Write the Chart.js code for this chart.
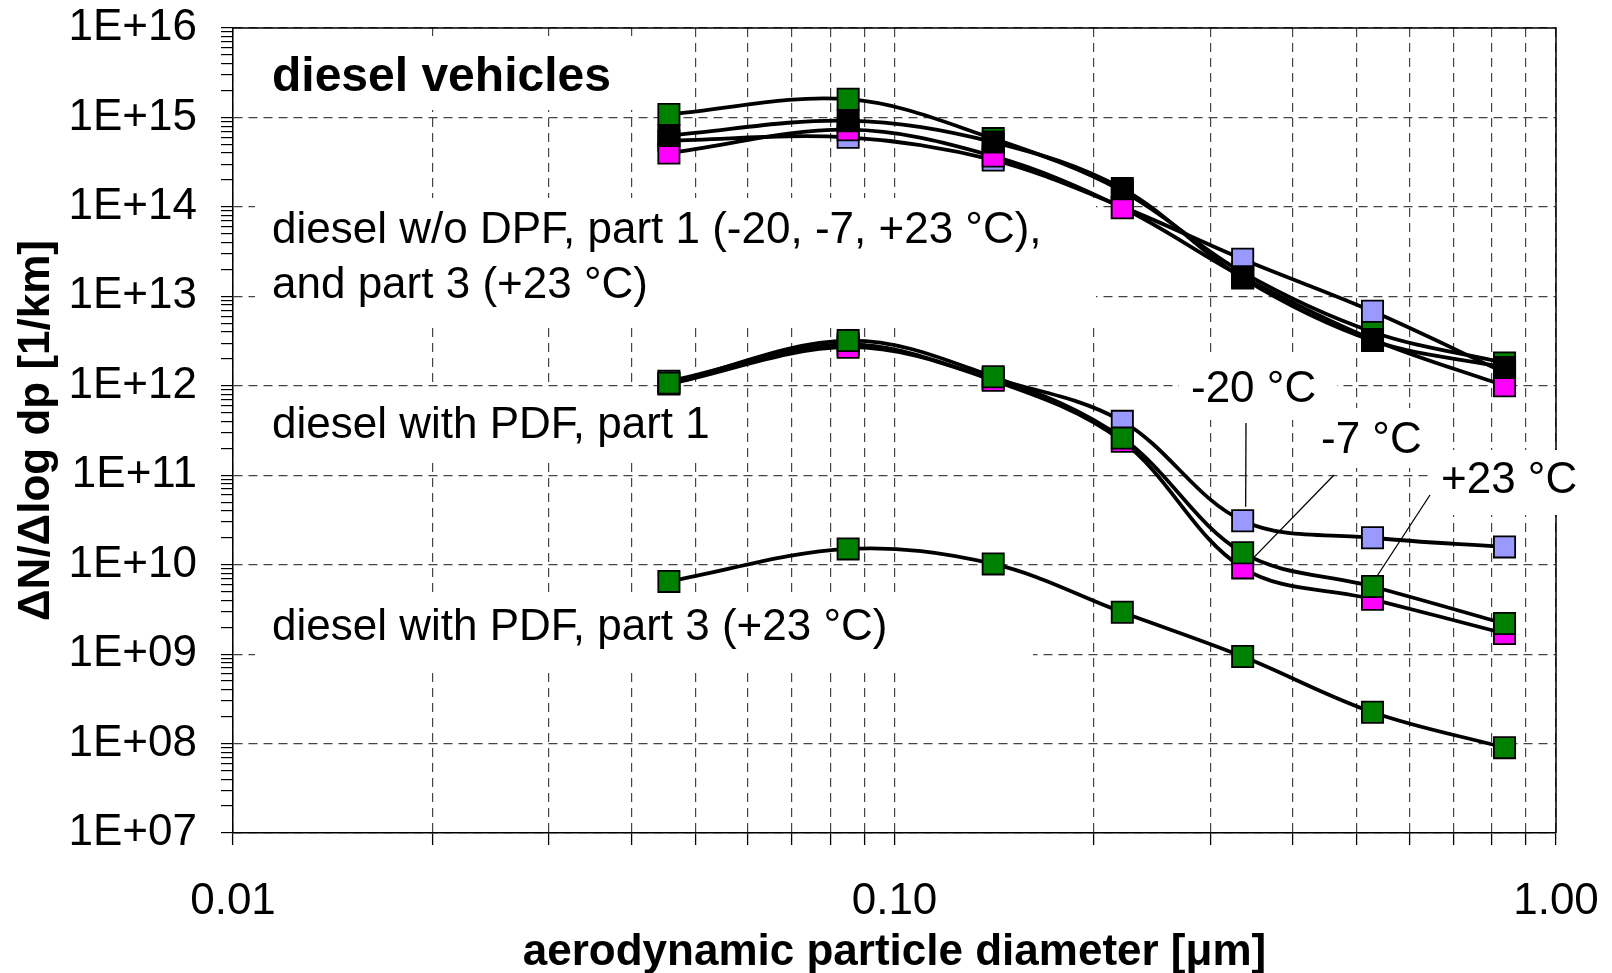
<!DOCTYPE html>
<html>
<head>
<meta charset="utf-8">
<script src="https://cdn.jsdelivr.net/npm/chart.js@4.4.0/dist/chart.umd.min.js"></script>
<style>
  html, body { margin: 0; padding: 0; background: #fff; }
  #wrap { width: 1612px; height: 973px; }
</style>
</head>
<body>
<div id="wrap"><canvas id="chart" width="1612" height="973"></canvas></div>
<script>
// particle diameters [µm]
const diameters = [0.0456, 0.0851, 0.141, 0.221, 0.336, 0.528, 0.836];

// diesel w/o DPF, part 1 at -20, -7, +23 °C and part 3 (+23 °C)
const noDpfM20 = [5.5e14, 6.0e14, 3.35e14, 1.0e14, 2.6e13, 6.8e12, 1.4e12];
const noDpfM7 = [4.0e14, 7.3e14, 3.7e14, 9.8e13, 1.65e13, 3.3e12, 1.0e12];
const noDpfP23 = [1.08e15, 1.6e15, 5.8e14, 1.5e14, 1.85e13, 4.0e12, 1.8e12];
const noDpfPart3 = [6.3e14, 9.2e14, 5.3e14, 1.6e14, 1.6e13, 3.2e12, 1.6e12];

// diesel with DPF, part 1
const dpfM20 = [1.12e12, 2.9e12, 1.2e12, 4.0e11, 3.1e10, 2.0e10, 1.58e10];
const dpfM7 = [1.05e12, 2.7e12, 1.15e12, 2.4e11, 9.2e9, 4.1e9, 1.7e9];
const dpfP23 = [1.07e12, 3.2e12, 1.26e12, 2.6e11, 1.36e10, 5.7e9, 2.2e9];

// diesel with DPF, part 3 (+23 °C)
const dpfPart3 = [6.5e9, 1.5e10, 1.02e10, 2.94e9, 9.4e8, 2.24e8, 9.0e7];

const xTickValues = [0.01, 0.1, 1];
const xTickLabels = ["0.01", "0.10", "1.00"];
const yTickValues = [1e7, 1e8, 1e9, 1e10, 1e11, 1e12, 1e13, 1e14, 1e15, 1e16];
const yTickLabels = ["1E+07", "1E+08", "1E+09", "1E+10", "1E+11", "1E+12", "1E+13", "1E+14", "1E+15", "1E+16"];

const LIGHTBLUE = "#9999ff";
const MAGENTA = "#ff00ff";
const GREEN = "#008000";
const BLACK = "#000000";

const FONT = '"Liberation Sans", Arial, sans-serif';
Chart.defaults.font.family = FONT;
Chart.defaults.color = "#000";

function series(values, color) {
  return {
    data: values.map((v, i) => ({ x: diameters[i], y: v })),
    borderColor: "#000",
    borderWidth: 3.8,
    backgroundColor: color,
    pointBackgroundColor: color,
    pointBorderColor: "#000",
    pointBorderWidth: 1.8,
    pointStyle: "rect",
    pointRadius: 15,
    tension: 0.35,
  };
}

// first dataset is drawn on top
const datasets = [
  series(noDpfPart3, BLACK),
  series(noDpfM7, MAGENTA),
  series(noDpfM20, LIGHTBLUE),
  series(noDpfP23, GREEN),
  series(dpfP23, GREEN),
  series(dpfM7, MAGENTA),
  series(dpfM20, LIGHTBLUE),
  series(dpfPart3, GREEN),
];

function logTicks(decades) {
  const out = [];
  decades.forEach((d, i) => {
    out.push({ value: d });
    if (i < decades.length - 1) {
      for (let k = 2; k <= 9; k++) out.push({ value: d * k });
    }
  });
  return out;
}

function isDecade(v) {
  const l = Math.log10(v);
  return Math.abs(l - Math.round(l)) < 1e-9;
}

// text boxes (white background hides the grid behind them)
const notes = [
  { lines: ["diesel vehicles"], x: 272, y: 91, bold: true, size: 48, box: [255, 36, 650, 110] },
  { lines: ["diesel w/o DPF, part 1 (-20, -7, +23 °C),", "and part 3 (+23 °C)"], x: 272, y: 243, size: 44, box: [255, 198, 1096, 325] },
  { lines: ["diesel with PDF, part 1"], x: 272, y: 438, size: 44, box: [255, 388, 740, 458] },
  { lines: ["diesel with PDF, part 3 (+23 °C)"], x: 272, y: 640, size: 44, box: [255, 595, 1033, 672] },
  { lines: ["-20 °C"], x: 1191, y: 402, size: 44, box: [1179, 356, 1337, 420] },
  { lines: ["-7 °C"], x: 1321, y: 453, size: 44, box: [1312, 408, 1432, 468] },
  { lines: ["+23 °C"], x: 1441, y: 493, size: 44, box: [1430, 450, 1592, 515] },
];

const notesPlugin = {
  id: "notes",
  beforeDatasetsDraw(chart) {
    const { ctx, chartArea: a, scales } = chart;
    const xs = scales.x, ys = scales.y;
    ctx.save();
    ctx.strokeStyle = "#000";
    ctx.lineWidth = 1.5;
    ctx.beginPath();
    ctx.moveTo(a.left, a.top);
    ctx.lineTo(a.right, a.top);
    ctx.lineTo(a.right, a.bottom);
    ctx.stroke();

    notes.forEach(n => {
      const b = n.box;
      ctx.fillStyle = "#fff";
      ctx.fillRect(b[0], b[1], b[2] - b[0], b[3] - b[1]);
    });
    ctx.fillStyle = "#000";
    ctx.textBaseline = "alphabetic";
    ctx.textAlign = "left";
    notes.forEach(n => {
      ctx.font = (n.bold ? "bold " : "") + n.size + "px " + FONT;
      n.lines.forEach((t, i) => ctx.fillText(t, n.x, n.y + i * 55));
    });

    const pt = (arr, i) => [xs.getPixelForValue(diameters[i]), ys.getPixelForValue(arr[i])];
    const leaders = [
      { from: [1246, 423], to: pt(dpfM20, 4), dx: 3, dy: -14 },
      { from: [1334, 475], to: pt(dpfM7, 4), dx: 3, dy: -2 },
      { from: [1430, 495], to: pt(dpfP23, 5), dx: 1, dy: -5 },
    ];
    ctx.lineWidth = 1.3;
    leaders.forEach(l => {
      ctx.beginPath();
      ctx.moveTo(l.from[0], l.from[1]);
      ctx.lineTo(l.to[0] + l.dx, l.to[1] + l.dy);
      ctx.stroke();
    });
    ctx.restore();
  },
};

new Chart(document.getElementById("chart"), {
  type: "line",
  data: { datasets },
  options: {
    responsive: false,
    devicePixelRatio: 1,
    animation: false,
    layout: { padding: { top: 28, right: 56, bottom: 0, left: 0 } },
    plugins: { legend: { display: false }, tooltip: { enabled: false } },
    scales: {
      x: {
        type: "logarithmic",
        min: 0.01,
        max: 1,
        afterBuildTicks: s => { s.ticks = logTicks(xTickValues); },
        afterFit: s => { s.height = 140; },
        border: { display: true, color: "#000", width: 1.5, dash: [9, 6] },
        grid: {
          color: "#444",
          lineWidth: 1.2,
          tickLength: 12,
          tickColor: "#000",
          tickWidth: 1.3,
        },
        ticks: {
          autoSkip: false,
          maxRotation: 0,
          padding: 10,
          font: { size: 44, lineHeight: 2.14 },
          callback: v => {
            const i = xTickValues.findIndex(t => Math.abs(t - v) < 1e-12);
            return i >= 0 ? xTickLabels[i] : "";
          },
        },
        title: {
          display: true,
          text: "aerodynamic particle diameter [μm]",
          font: { size: 44, weight: "bold", lineHeight: 0.9 },
          padding: { top: 0, bottom: 0 },
        },
      },
      y: {
        type: "logarithmic",
        min: 1e7,
        max: 1e16,
        afterBuildTicks: s => { s.ticks = logTicks(yTickValues); },
        afterFit: s => { s.width = 233; },
        border: { display: true, color: "#000", width: 1.5, dash: [9, 6] },
        grid: {
          color: c => (c.tick && isDecade(c.tick.value) ? "#444" : "rgba(0,0,0,0)"),
          lineWidth: 1.2,
          tickLength: 12,
          tickColor: "#000",
          tickWidth: 1.2,
        },
        ticks: {
          autoSkip: false,
          padding: 24,
          font: { size: 44, lineHeight: 0.1 },
          callback: v => {
            const i = yTickValues.findIndex(t => Math.abs(t - v) / t < 1e-9);
            return i >= 0 ? yTickLabels[i] : "";
          },
        },
        title: {
          display: true,
          text: "ΔN/Δlog dp [1/km]",
          font: { size: 44, weight: "bold", lineHeight: 1.0 },
          padding: { top: 15, bottom: 0 },
        },
      },
    },
  },
  plugins: [notesPlugin],
});
</script>
</body>
</html>
